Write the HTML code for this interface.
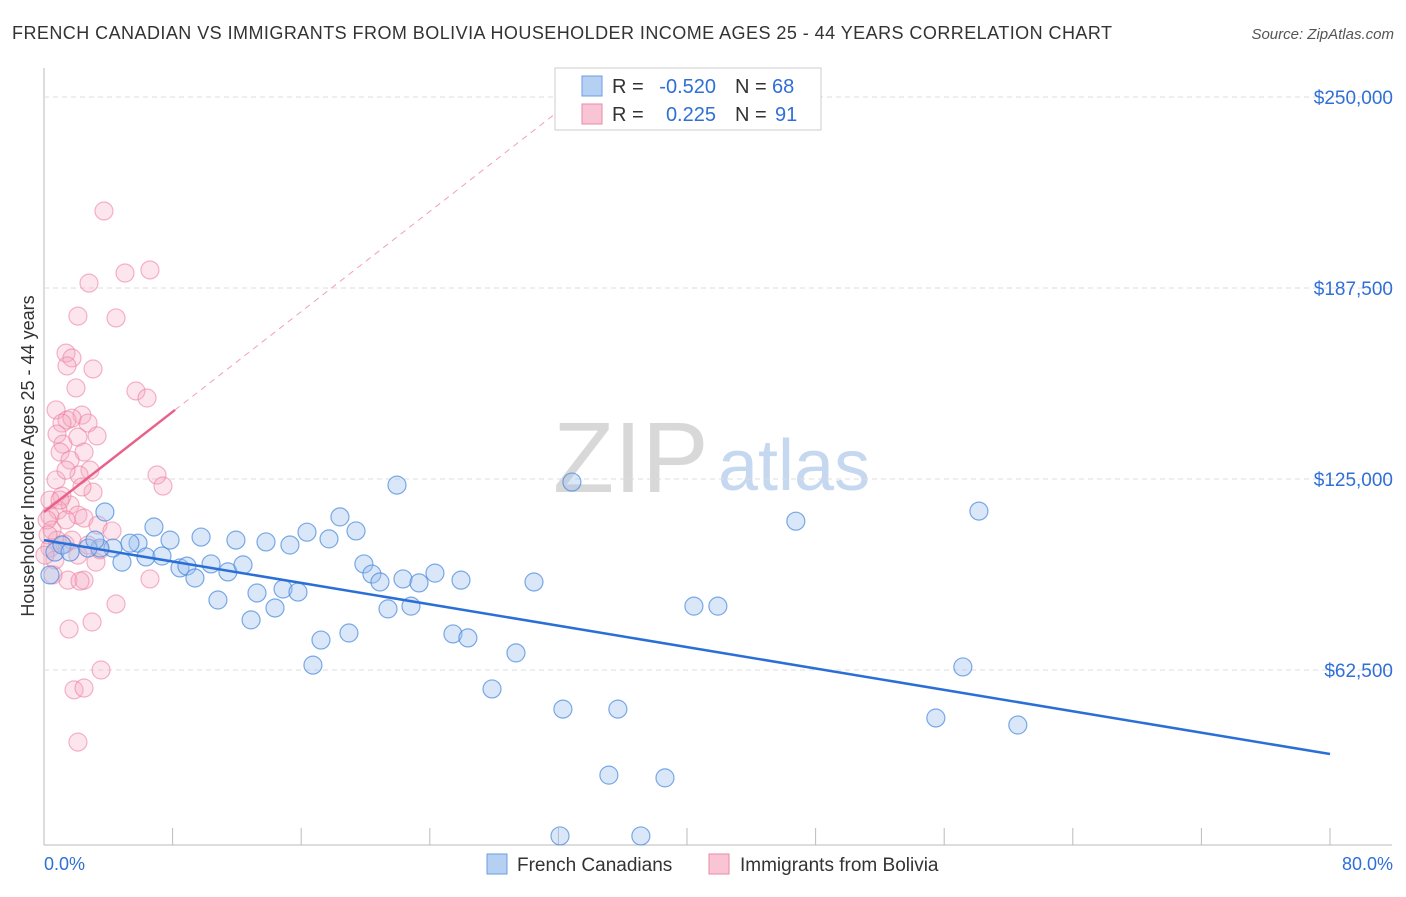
<!DOCTYPE html>
<html><head><meta charset="utf-8"><style>
body{margin:0;background:#fff;font-family:"Liberation Sans",sans-serif;}
svg text{font-family:"Liberation Sans",sans-serif;}
</style></head><body>
<svg id="chart" width="1406" height="892" xmlns="http://www.w3.org/2000/svg">
<text x="12" y="39" font-size="18" fill="#333" textLength="1100" lengthAdjust="spacing">FRENCH CANADIAN VS IMMIGRANTS FROM BOLIVIA HOUSEHOLDER INCOME AGES 25 - 44 YEARS CORRELATION CHART</text>
<text x="1394" y="39" font-size="15" fill="#555" text-anchor="end" font-style="italic">Source: ZipAtlas.com</text>
<text transform="translate(34,456) rotate(-90)" font-size="18" fill="#333" text-anchor="middle">Householder Income Ages 25 - 44 years</text>
<g>
<text x="553" y="492" font-size="100" fill="#d8d8d8" font-family="Liberation Serif,serif">ZIP</text>
<text x="718" y="490" font-size="72" fill="#c5d8f0">atlas</text>
</g>
<g id="grid"></g>
<g id="marks"></g>
<g>
<rect x="555" y="68" width="266" height="62" fill="#fff" stroke="#ccc"/>
<rect x="582" y="76" width="20" height="20" fill="#b5d0f3" stroke="#6b9be0"/>
<rect x="582" y="104" width="20" height="20" fill="#f9c5d4" stroke="#eb8aa8"/>
<text x="612" y="93" font-size="20" fill="#333">R =</text>
<text x="716" y="93" font-size="20" fill="#2f6fd6" text-anchor="end">-0.520</text>
<text x="735" y="93" font-size="20" fill="#333">N =</text>
<text x="772" y="93" font-size="20" fill="#2f6fd6">68</text>
<text x="612" y="121" font-size="20" fill="#333">R =</text>
<text x="716" y="121" font-size="20" fill="#2f6fd6" text-anchor="end">0.225</text>
<text x="735" y="121" font-size="20" fill="#333">N =</text>
<text x="775" y="121" font-size="20" fill="#2f6fd6">91</text>
</g>
<g>
<rect x="487" y="854" width="20" height="20" fill="#b5d0f3" stroke="#6b9be0"/>
<text x="517" y="871" font-size="19" fill="#333">French Canadians</text>
<rect x="709" y="854" width="20" height="20" fill="#f9c5d4" stroke="#eb8aa8"/>
<text x="740" y="871" font-size="19" fill="#333">Immigrants from Bolivia</text>
</g>
<text x="44" y="870" font-size="18" fill="#2f6fd6">0.0%</text>
<text x="1393" y="870" font-size="18" fill="#2f6fd6" text-anchor="end">80.0%</text>
</svg>
<script>
const yTicks=[62.5,125,187.5,250];
const yTickLabels=["$62,500","$125,000","$187,500","$250,000"];
const xTicks=[0,8,16,24,32,40,48,56,64,72,80];
const blueX=[3.79,6.84,7.84,5.85,4.29,5.35,4.85,6.34,7.34,8.46,8.89,9.39,9.77,10.39,10.82,11.44,11.94,12.38,12.88,13.25,13.81,14.37,14.87,15.30,15.80,16.36,16.73,17.23,17.73,18.41,18.97,19.41,19.90,20.40,20.90,21.40,21.96,22.33,22.83,23.33,24.32,25.44,25.94,26.37,27.87,29.36,30.48,32.28,32.84,35.14,35.70,38.63,40.43,41.92,46.77,55.48,57.16,58.16,60.58,32.10,37.13,3.48,0.68,1.12,0.37,1.62,2.74,3.17];
const blueY=[114.2,109.3,105.0,104.0,102.4,104.0,97.8,99.5,99.8,95.9,96.5,92.6,106.0,97.2,85.4,94.6,105.0,96.9,78.9,87.7,104.4,82.8,89.0,103.4,88.0,107.6,64.1,72.3,105.4,112.6,74.6,108.0,97.2,93.9,91.3,82.5,123.0,92.3,83.4,91.0,94.2,74.3,91.9,73.0,56.3,68.1,91.3,49.7,124.0,28.1,49.7,27.2,83.4,83.4,111.2,46.8,63.5,114.5,44.5,8.2,8.2,102.4,101.1,103.4,93.6,101.1,102.4,105.0];
const pinkX=[3.73,5.04,6.59,2.80,4.48,2.11,1.37,1.74,1.43,3.05,1.99,5.72,6.41,0.75,2.36,1.43,1.74,1.12,2.74,3.30,0.81,1.18,2.11,2.49,1.00,1.62,2.86,2.18,0.75,1.37,3.05,2.36,1.12,0.37,7.03,7.40,1.62,0.87,2.11,0.37,1.37,0.50,2.49,3.36,4.23,0.81,1.31,0.37,2.11,3.23,1.49,2.49,2.24,6.59,4.48,1.56,2.99,3.55,1.87,2.49,2.11,0.68,0.56,1.00,1.74,2.74,0.19,0.25,3.48,0.06];
const pinkY=[212.7,192.4,193.4,189.1,177.7,178.3,166.2,164.6,162.0,161.0,154.8,153.8,151.5,147.6,145.9,144.3,144.9,143.3,143.3,139.1,139.7,136.4,138.7,133.8,133.8,131.2,127.9,126.3,124.7,127.9,120.7,122.4,119.4,118.1,126.3,122.7,116.5,114.8,113.2,112.9,111.6,108.3,112.2,109.9,108.0,105.0,103.7,102.4,100.1,97.8,91.9,91.9,91.6,92.3,84.1,75.9,78.2,62.5,56.0,56.6,38.9,98.5,93.6,118.1,105.0,103.4,111.6,106.7,101.8,100.1];
const blueTrend=[[0,105.0],[80,35.0]];
const pinkTrend=[[0,114.2],[8.15,147.6]];
const pinkTrendExt=[8.15,32.1];
const NS="http://www.w3.org/2000/svg";
const X=v=>44+v*(1286/80);
const Y=v=>861-v*(191/62.5);
const grid=document.getElementById('grid'),marks=document.getElementById('marks');
function mk(tag,attrs,parent){const e=document.createElementNS(NS,tag);for(const k in attrs)e.setAttribute(k,attrs[k]);parent.appendChild(e);return e;}
let ax=mk('line',{x1:44,y1:68,x2:44,y2:845,stroke:'#bbb'},grid);


let bx=mk('line',{x1:44,y1:845,x2:1392,y2:845,stroke:'#bbb'},grid);


yTicks.forEach((t,i)=>{
 let g=mk('line',{x1:44,y1:Y(t),x2:1392,y2:Y(t),stroke:'#ddd','stroke-dasharray':'5,4'},grid);
 
 
 let tx=mk('text',{x:1393,y:Y(t)+7,'font-size':19,fill:'#2f6fd6','text-anchor':'end'},grid);
 tx.textContent=yTickLabels[i];
 
 
});
xTicks.forEach(t=>{
 let l=mk('line',{x1:X(t),y1:828,x2:X(t),y2:845,stroke:'#bbb'},grid);
 
 
});
pinkX.forEach((x,i)=>{
 let c=mk('circle',{cx:X(x),cy:Y(pinkY[i]),r:9,fill:'rgba(246,170,195,0.3)',stroke:'rgba(236,120,155,0.55)','stroke-width':1.2},marks);
 
 
});
blueX.forEach((x,i)=>{
 let c=mk('circle',{cx:X(x),cy:Y(blueY[i]),r:9,fill:'rgba(160,195,240,0.4)',stroke:'rgba(70,135,220,0.7)','stroke-width':1.2},marks);
 
 
});
const slope=(pinkTrend[1][1]-pinkTrend[0][1])/(pinkTrend[1][0]-pinkTrend[0][0]);
let pd=mk('line',{x1:X(pinkTrendExt[0]),y1:Y(pinkTrend[0][1]+slope*pinkTrendExt[0]),x2:X(pinkTrendExt[1]),y2:Y(pinkTrend[0][1]+slope*pinkTrendExt[1]),stroke:'#f0a0b8','stroke-dasharray':'6,5','stroke-width':1},marks);


let pl=mk('line',{x1:X(pinkTrend[0][0]),y1:Y(pinkTrend[0][1]),x2:X(pinkTrend[1][0]),y2:Y(pinkTrend[1][1]),stroke:'#e9608a','stroke-width':2.5},marks);


let bl=mk('line',{x1:X(blueTrend[0][0]),y1:Y(blueTrend[0][1]),x2:X(blueTrend[1][0]),y2:Y(blueTrend[1][1]),stroke:'#2a6fd6','stroke-width':2.5},marks);


</script>
</body></html>
